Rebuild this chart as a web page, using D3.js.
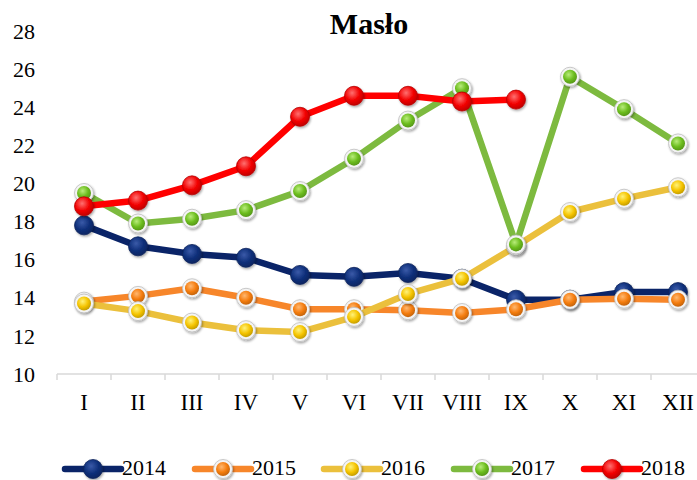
<!DOCTYPE html>
<html><head><meta charset="utf-8">
<script src="https://cdn.jsdelivr.net/npm/d3@7"></script>
<style>body{margin:0;background:#fff}svg{display:block}text{font-family:"Liberation Serif","Times New Roman","DejaVu Serif",serif}</style>
</head><body><svg id="c" width="697" height="480"></svg>
<script>
const months = ["I","II","III","IV","V","VI","VII","VIII","IX","X","XI","XII"];
const yTicks = [10,12,14,16,18,20,22,24,26,28];
const s2014 = [17.8,16.7,16.3,16.1,15.2,15.1,15.3,15.0,13.9,13.9,14.3,14.3];
const s2015 = [13.8,14.1,14.5,14.0,13.4,13.4,13.35,13.2,13.4,13.9,13.95,13.9];
const s2016 = [13.7,13.3,12.7,12.3,12.2,13.0,14.2,15.0,16.7,18.5,19.2,19.8];
const s2017 = [19.5,17.9,18.15,18.6,19.6,21.3,23.3,25.0,16.8,25.6,23.9,22.1];
const s2018 = [18.8,19.1,19.9,20.9,23.5,24.6,24.6,24.3,24.4];
const seriesNames = ["2014","2015","2016","2017","2018"];

const series = [
  {name:"2014", vals:s2014, line:"#0a2468", fill:"#0f2f7a", hi:"#3a5aa8", ring:false},
  {name:"2015", vals:s2015, line:"#f7862a", fill:"#f57d10", hi:"#ffb870", ring:true},
  {name:"2016", vals:s2016, line:"#ebc03c", fill:"#f5c400", hi:"#fff27a", ring:true},
  {name:"2017", vals:s2017, line:"#7dba3f", fill:"#6cbd1e", hi:"#b8ec7a", ring:true},
  {name:"2018", vals:s2018, line:"#ff0000", fill:"#f20000", hi:"#ff7070", ring:false}
];

const svg = d3.select("#c");
const defs = svg.append("defs");
const f = defs.append("filter").attr("id","sh").attr("x","-50%").attr("y","-50%").attr("width","200%").attr("height","200%");
f.append("feDropShadow").attr("dx",1).attr("dy",1.5).attr("stdDeviation",1.2).attr("flood-color","#000").attr("flood-opacity",0.35);
series.forEach((s,i)=>{
  const g = defs.append("radialGradient").attr("id","g"+i).attr("cx","40%").attr("cy","35%").attr("r","65%");
  g.append("stop").attr("offset","0%").attr("stop-color",s.hi);
  g.append("stop").attr("offset","60%").attr("stop-color",s.fill);
  g.append("stop").attr("offset","100%").attr("stop-color",d3.color(s.fill).darker(0.6));
});

const x = d3.scaleBand().domain(months).range([57,705]);
const y = d3.scaleLinear().domain([10,28]).range([374,31]);

// title
svg.append("text").attr("x",369).attr("y",34).attr("text-anchor","middle")
  .attr("font-weight","bold").attr("font-size",30).attr("fill","#000").text("Masło");

// y labels
svg.append("g").selectAll("text").data(yTicks).join("text")
  .attr("x",24).attr("y",d=>y(d)).attr("dy","0.35em").attr("text-anchor","middle")
  .attr("font-size",22).attr("fill","#000")
  .text(d=>d);

// x axis
const xa = svg.append("g").attr("transform","translate(0,374)");
xa.append("line").attr("x1",57).attr("x2",697).attr("stroke","#d9d9d9").attr("stroke-width",1.5);
xa.selectAll("line.t").data(months).join("line").attr("class","t")
  .attr("x1",d=>x(d)).attr("x2",d=>x(d)).attr("y1",0).attr("y2",6)
  .attr("stroke","#d9d9d9").attr("stroke-width",1.5);
xa.selectAll("text").data(months).join("text")
  .attr("x",d=>x(d)+x.bandwidth()/2).attr("y",36).attr("text-anchor","middle")
  .attr("font-size",23).attr("fill","#000")
  .text(d=>d);

const line = d3.line().x((d,i)=>x(months[i])+x.bandwidth()/2).y(d=>y(d));

function marker(g, cx, cy, s, i){
  const m = g.append("g").attr("filter","url(#sh)");
  if(s.ring){
    m.append("circle").attr("cx",cx).attr("cy",cy).attr("r",9.5).attr("fill","#f4f4f4").attr("stroke","#bdbdbd").attr("stroke-width",0.8);
    m.append("circle").attr("cx",cx).attr("cy",cy).attr("r",7).attr("fill","url(#g"+i+")");
  } else {
    m.append("circle").attr("cx",cx).attr("cy",cy).attr("r",9.5).attr("fill","url(#g"+i+")")
      .attr("stroke",d3.color(s.fill).darker(0.8)).attr("stroke-width",0.8);
  }
}

series.forEach((s,i)=>{
  const g = svg.append("g");
  g.append("path").datum(s.vals).attr("d",line).attr("fill","none")
    .attr("stroke",s.line).attr("stroke-width",6.5).attr("stroke-linejoin","round");
  s.vals.forEach((v,j)=>marker(g, x(months[j])+x.bandwidth()/2, y(v), s, i));
});

// legend
const lx = [65,195,324,454,584];
series.forEach((s,i)=>{
  const g = svg.append("g");
  const x0 = lx[i], yy = 469;
  g.append("line").attr("x1",x0).attr("x2",x0+56).attr("y1",yy).attr("y2",yy)
    .attr("stroke",s.line).attr("stroke-width",6.5).attr("stroke-linecap","round");
  marker(g, x0+28, yy, s, i);
  g.append("text").attr("x",x0+57).attr("y",475)
    .attr("font-size",22).attr("fill","#000")
    .text(seriesNames[i]);
});
</script></body></html>
